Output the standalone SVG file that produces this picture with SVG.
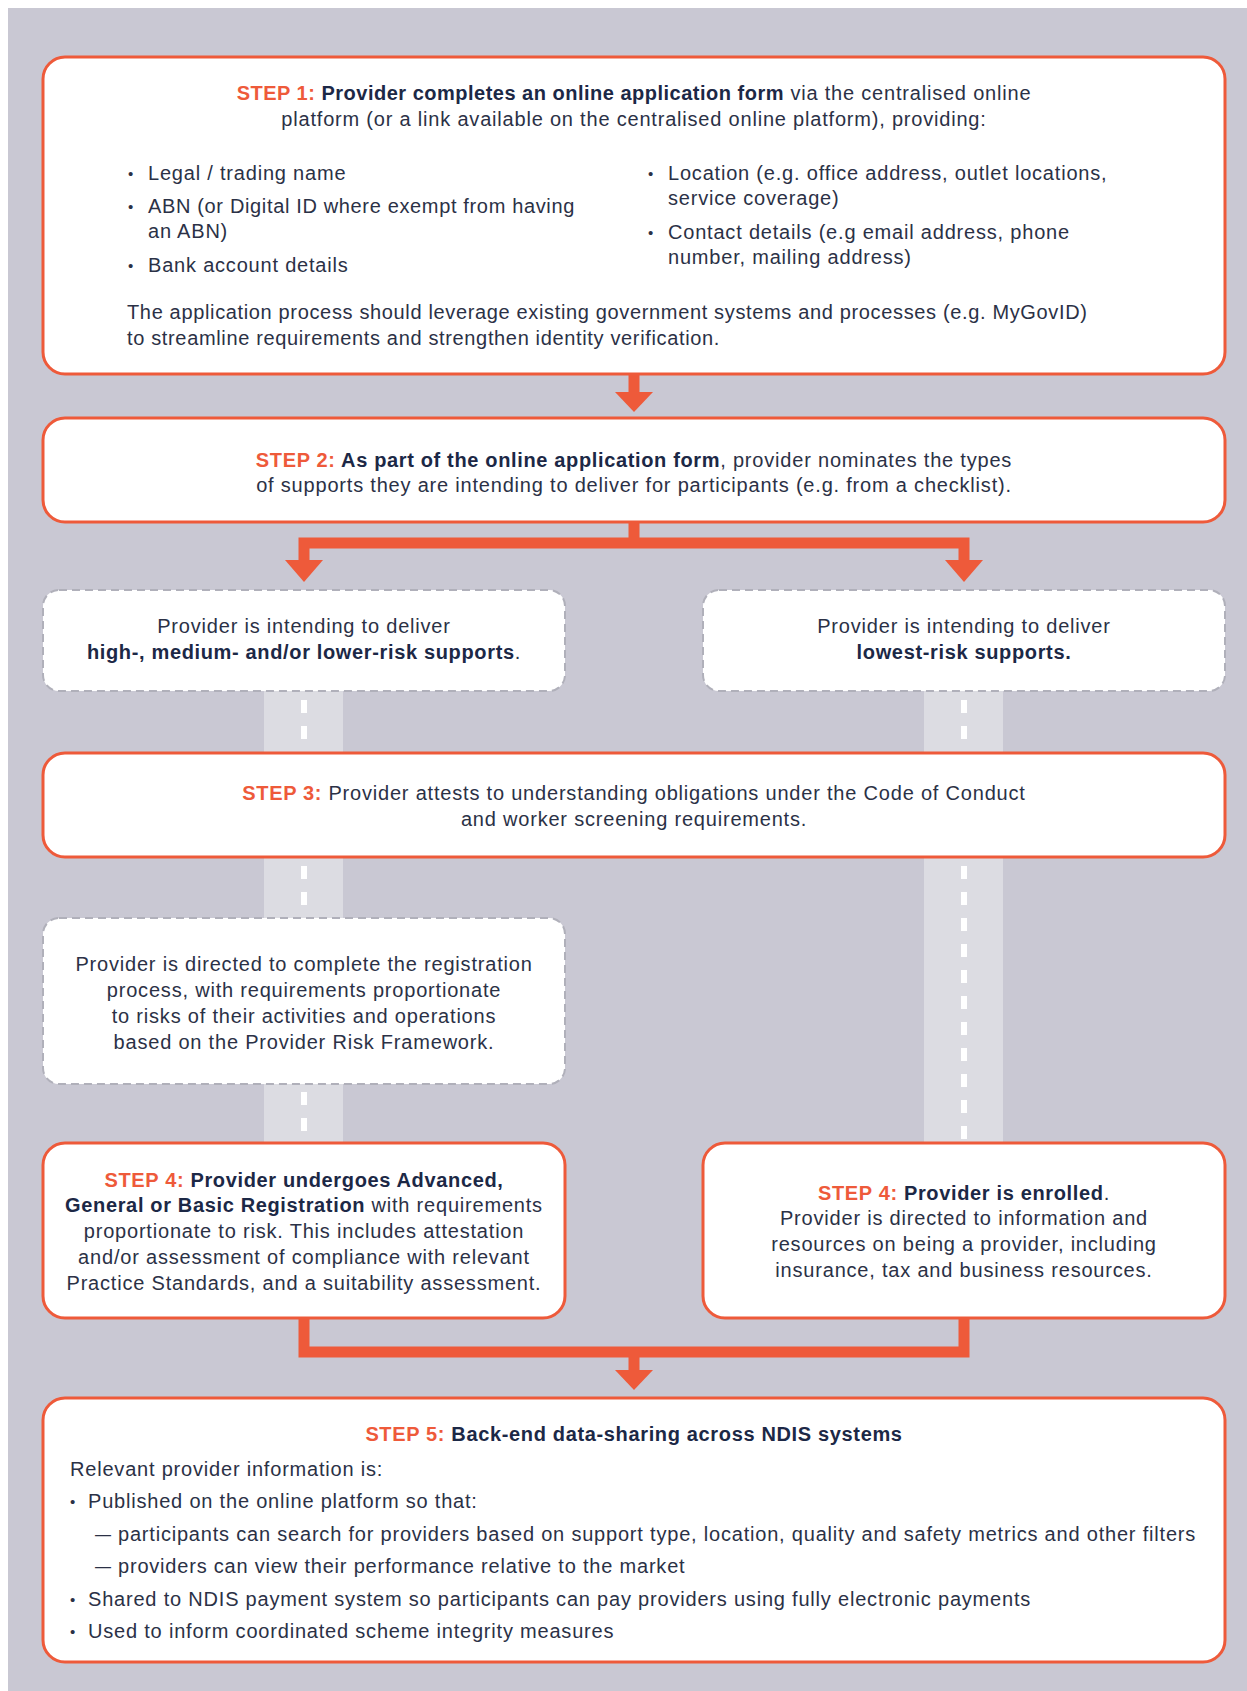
<svg xmlns="http://www.w3.org/2000/svg" width="1247" height="1691" viewBox="0 0 1247 1691">
  <defs>
    <style>
      .bg { fill: #C9C8D3; }
      .box { fill: #FFFFFF; stroke: #EE5A3A; stroke-width: 3; }
      .dbox { fill: #FFFFFF; stroke: #B0B0BA; stroke-width: 2; stroke-dasharray: 8 5; }
      .road { fill: #DCDCE2; }
      .lane { stroke: #FFFFFF; stroke-width: 6; stroke-dasharray: 13 13; fill: none; }
      .conn { fill: none; stroke: #EE5A3A; stroke-width: 11; stroke-linejoin: miter; }
      .head { fill: #EE5A3A; }
      text { font-family: "Liberation Sans", Arial, Helvetica, sans-serif; font-size: 20px; fill: #2B3146; letter-spacing: 0.8px; }
      .c { text-anchor: middle; }
      .b { font-weight: bold; fill: #1C2846; letter-spacing: 0.65px; }
      .o { font-weight: bold; fill: #EE5A3A; letter-spacing: 0.65px; }
      .tight { letter-spacing: 0.65px; }
      .tb { letter-spacing: 0.5px; }
      .dot { font-size: 15px; }
      .dash { font-size: 16px; letter-spacing: 0; }
    </style>
  </defs>

  <!-- page background -->
  <rect class="bg" x="8" y="8" width="1239" height="1683"/>

  <!-- road strips running between the branch boxes -->
  <g id="roads">
    <rect class="road" x="264" y="691" width="79" height="62"/>
    <rect class="road" x="264" y="857" width="79" height="61"/>
    <rect class="road" x="264" y="1084" width="79" height="59"/>
    <rect class="road" x="924" y="691" width="79" height="62"/>
    <rect class="road" x="924" y="857" width="79" height="286"/>
    <path class="lane" d="M304,700 V748 M304,866 V914 M304,1092 V1143 M964,700 V748 M964,866 V1143"/>
  </g>

  <!-- connectors -->
  <g id="connectors">
    <path class="conn" d="M634,374 V394"/>
    <polygon class="head" points="615,392 653,392 634,412"/>
    <path class="conn" d="M634,522 V543 M304,562 V543 H964 V562"/>
    <polygon class="head" points="285,560 323,560 304,582"/>
    <polygon class="head" points="945,560 983,560 964,582"/>
    <path class="conn" d="M304,1318 V1352 H964 V1318 M634,1352 V1372"/>
    <polygon class="head" points="615,1370 653,1370 634,1390"/>
  </g>

  <!-- STEP 1 -->
  <g id="step1">
    <rect class="box" x="43" y="57" width="1182" height="317" rx="22"/>
    <text class="c" x="634" y="100"><tspan class="o tb">STEP 1:</tspan><tspan class="b tb"> Provider completes an online application form</tspan> via the centralised online</text>
    <text class="c" x="634" y="126">platform (or a link available on the centralised online platform), providing:</text>
    <text class="dot" x="128" y="179">•</text>
    <text x="148" y="180">Legal / trading name</text>
    <text class="dot" x="128" y="212">•</text>
    <text class="tight" x="148" y="213">ABN (or Digital ID where exempt from having</text>
    <text x="148" y="238">an ABN)</text>
    <text class="dot" x="128" y="271">•</text>
    <text x="148" y="272">Bank account details</text>
    <text class="dot" x="648" y="179">•</text>
    <text x="668" y="180">Location (e.g. office address, outlet locations,</text>
    <text x="668" y="205">service coverage)</text>
    <text class="dot" x="648" y="238">•</text>
    <text x="668" y="239">Contact details (e.g email address, phone</text>
    <text x="668" y="264">number, mailing address)</text>
    <text class="tight" x="127" y="319">The application process should leverage existing government systems and processes (e.g. MyGovID)</text>
    <text class="tight" x="127" y="345">to streamline requirements and strengthen identity verification.</text>
  </g>

  <!-- STEP 2 -->
  <g id="step2">
    <rect class="box" x="43" y="418" width="1182" height="104" rx="22"/>
    <text class="c" x="634" y="467"><tspan class="o">STEP 2:</tspan><tspan class="b"> As part of the online application form</tspan>, provider nominates the types</text>
    <text class="c" x="634" y="492">of supports they are intending to deliver for participants (e.g. from a checklist).</text>
  </g>

  <!-- risk branch: higher risk -->
  <g id="branch-higher">
    <rect class="dbox" x="43" y="590" width="522" height="101" rx="16"/>
    <text class="c" x="304" y="633">Provider is intending to deliver</text>
    <text class="c" x="304" y="659"><tspan class="b">high-, medium- and/or lower-risk supports</tspan>.</text>
  </g>

  <!-- risk branch: lowest risk -->
  <g id="branch-lowest">
    <rect class="dbox" x="703" y="590" width="522" height="101" rx="16"/>
    <text class="c" x="964" y="633">Provider is intending to deliver</text>
    <text class="c b" x="964" y="659">lowest-risk supports.</text>
  </g>

  <!-- STEP 3 -->
  <g id="step3">
    <rect class="box" x="43" y="753" width="1182" height="104" rx="22"/>
    <text class="c" x="634" y="800"><tspan class="o">STEP 3:</tspan> Provider attests to understanding obligations under the Code of Conduct</text>
    <text class="c" x="634" y="826">and worker screening requirements.</text>
  </g>

  <!-- registration direction -->
  <g id="registration">
    <rect class="dbox" x="43" y="918" width="522" height="166" rx="16"/>
    <text class="c" x="304" y="971">Provider is directed to complete the registration</text>
    <text class="c" x="304" y="997">process, with requirements proportionate</text>
    <text class="c" x="304" y="1023">to risks of their activities and operations</text>
    <text class="c" x="304" y="1049">based on the Provider Risk Framework.</text>
  </g>

  <!-- STEP 4: registration -->
  <g id="step4-registration">
    <rect class="box" x="43" y="1143" width="522" height="175" rx="22"/>
    <text class="c" x="304" y="1187"><tspan class="o">STEP 4:</tspan><tspan class="b"> Provider undergoes Advanced,</tspan></text>
    <text class="c" x="304" y="1212"><tspan class="b">General or Basic Registration</tspan> with requirements</text>
    <text class="c" x="304" y="1238">proportionate to risk. This includes attestation</text>
    <text class="c" x="304" y="1264">and/or assessment of compliance with relevant</text>
    <text class="c" x="304" y="1290">Practice Standards, and a suitability assessment.</text>
  </g>

  <!-- STEP 4: enrolment -->
  <g id="step4-enrolment">
    <rect class="box" x="703" y="1143" width="522" height="175" rx="22"/>
    <text class="c" x="964" y="1200"><tspan class="o">STEP 4:</tspan><tspan class="b"> Provider is enrolled</tspan>.</text>
    <text class="c" x="964" y="1225">Provider is directed to information and</text>
    <text class="c" x="964" y="1251">resources on being a provider, including</text>
    <text class="c" x="964" y="1277">insurance, tax and business resources.</text>
  </g>

  <!-- STEP 5 -->
  <g id="step5">
    <rect class="box" x="43" y="1398" width="1182" height="264" rx="22"/>
    <text class="c" x="634" y="1441"><tspan class="o">STEP 5:</tspan><tspan class="b"> Back-end data-sharing across NDIS systems</tspan></text>
    <text x="70" y="1476">Relevant provider information is:</text>
    <text class="dot" x="70" y="1507">•</text>
    <text x="88" y="1508">Published on the online platform so that:</text>
    <text class="dash" x="95" y="1540">—</text>
    <text x="118" y="1541">participants can search for providers based on support type, location, quality and safety metrics and other filters</text>
    <text class="dash" x="95" y="1572">—</text>
    <text x="118" y="1573">providers can view their performance relative to the market</text>
    <text class="dot" x="70" y="1605">•</text>
    <text x="88" y="1606">Shared to NDIS payment system so participants can pay providers using fully electronic payments</text>
    <text class="dot" x="70" y="1637">•</text>
    <text x="88" y="1638">Used to inform coordinated scheme integrity measures</text>
  </g>
</svg>
